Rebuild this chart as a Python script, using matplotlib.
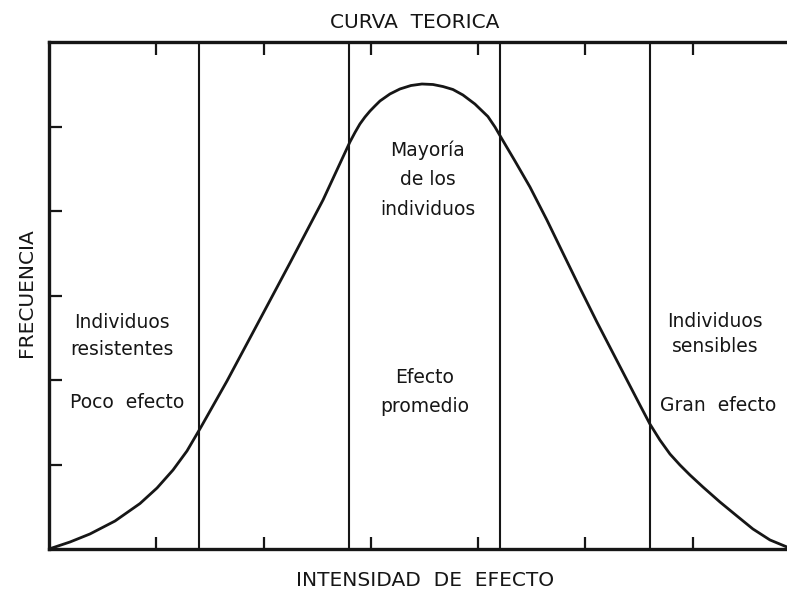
import matplotlib.pyplot as plt

# Curve (x: intensity 0..7, y: frequency 0..6)
curve_x = [0.000, 0.196, 0.382, 0.615, 0.848, 1.007, 1.156, 1.286, 1.417,
           1.659, 1.938, 2.246, 2.554, 2.805, 2.852, 2.898, 2.945, 2.992,
           3.038, 3.085, 3.178, 3.271, 3.374, 3.476, 3.579, 3.672, 3.765,
           3.858, 3.970, 4.091, 4.157, 4.222, 4.343, 4.483, 4.641, 4.790,
           4.949, 5.107, 5.247, 5.387, 5.508, 5.601, 5.694, 5.788, 5.881,
           5.974, 6.095, 6.254, 6.412, 6.561, 6.720, 6.878, 7.000]
curve_y = [0.000, 0.083, 0.178, 0.331, 0.538, 0.722, 0.935, 1.160, 1.444,
           1.988, 2.651, 3.385, 4.130, 4.817, 4.929, 5.030, 5.112, 5.183,
           5.243, 5.302, 5.385, 5.444, 5.485, 5.503, 5.497, 5.473, 5.438,
           5.373, 5.266, 5.118, 4.994, 4.852, 4.592, 4.284, 3.893, 3.503,
           3.089, 2.686, 2.343, 2.000, 1.704, 1.479, 1.290, 1.124, 0.994,
           0.876, 0.734, 0.556, 0.391, 0.237, 0.107, 0.024, 0.000]

# Dividing lines between groups
dividers = [1.4, 2.8, 4.2, 5.6]

x_ticks = [1, 2, 3, 4, 5, 6]
y_ticks = [1, 2, 3, 4, 5]

INK = "#161616"

fig = plt.figure(figsize=(7.87, 5.93), dpi=100)
fig.patch.set_facecolor("white")
ax = fig.add_axes([49 / 787, 44 / 593, 751 / 787, 507 / 593])
ax.set_xlim(0, 7)
ax.set_ylim(0, 6)

ax.plot(curve_x, curve_y, color=INK, lw=2.0, solid_joinstyle="round",
        solid_capstyle="round")
for d in dividers:
    ax.axvline(d, color=INK, lw=1.5)

for s in ax.spines.values():
    s.set_linewidth(2.4)
    s.set_color(INK)

ax.set_xticks(x_ticks)
ax.set_yticks(y_ticks)
ax.tick_params(direction="in", length=9, width=1.6, color=INK,
               top=True, right=True, labelbottom=False, labelleft=False)

lab = dict(ha="center", va="center", fontsize=13.5, color=INK)
ax.text(0.68, 2.52, "Individuos\nresistentes", linespacing=1.55, **lab)
ax.text(0.73, 1.73, "Poco  efecto", **lab)
ax.text(3.53, 4.37, "Mayoría\nde los\nindividuos", linespacing=1.7, **lab)
ax.text(3.50, 1.86, "Efecto\npromedio", linespacing=1.65, **lab)
ax.text(6.21, 2.54, "Individuos\nsensibles", linespacing=1.4, **lab)
ax.text(6.24, 1.70, "Gran  efecto", **lab)

title = dict(ha="center", va="center", fontsize=14.5, color=INK)
fig.text(415 / 787, 1 - 23 / 593, "CURVA  TEORICA", **title)
fig.text(425 / 787, 1 - 580 / 593, "INTENSIDAD  DE  EFECTO", **title)
fig.text(27 / 787, 1 - 293 / 593, "FRECUENCIA", rotation=90, **title)

fig.savefig("out.png", dpi=100)
